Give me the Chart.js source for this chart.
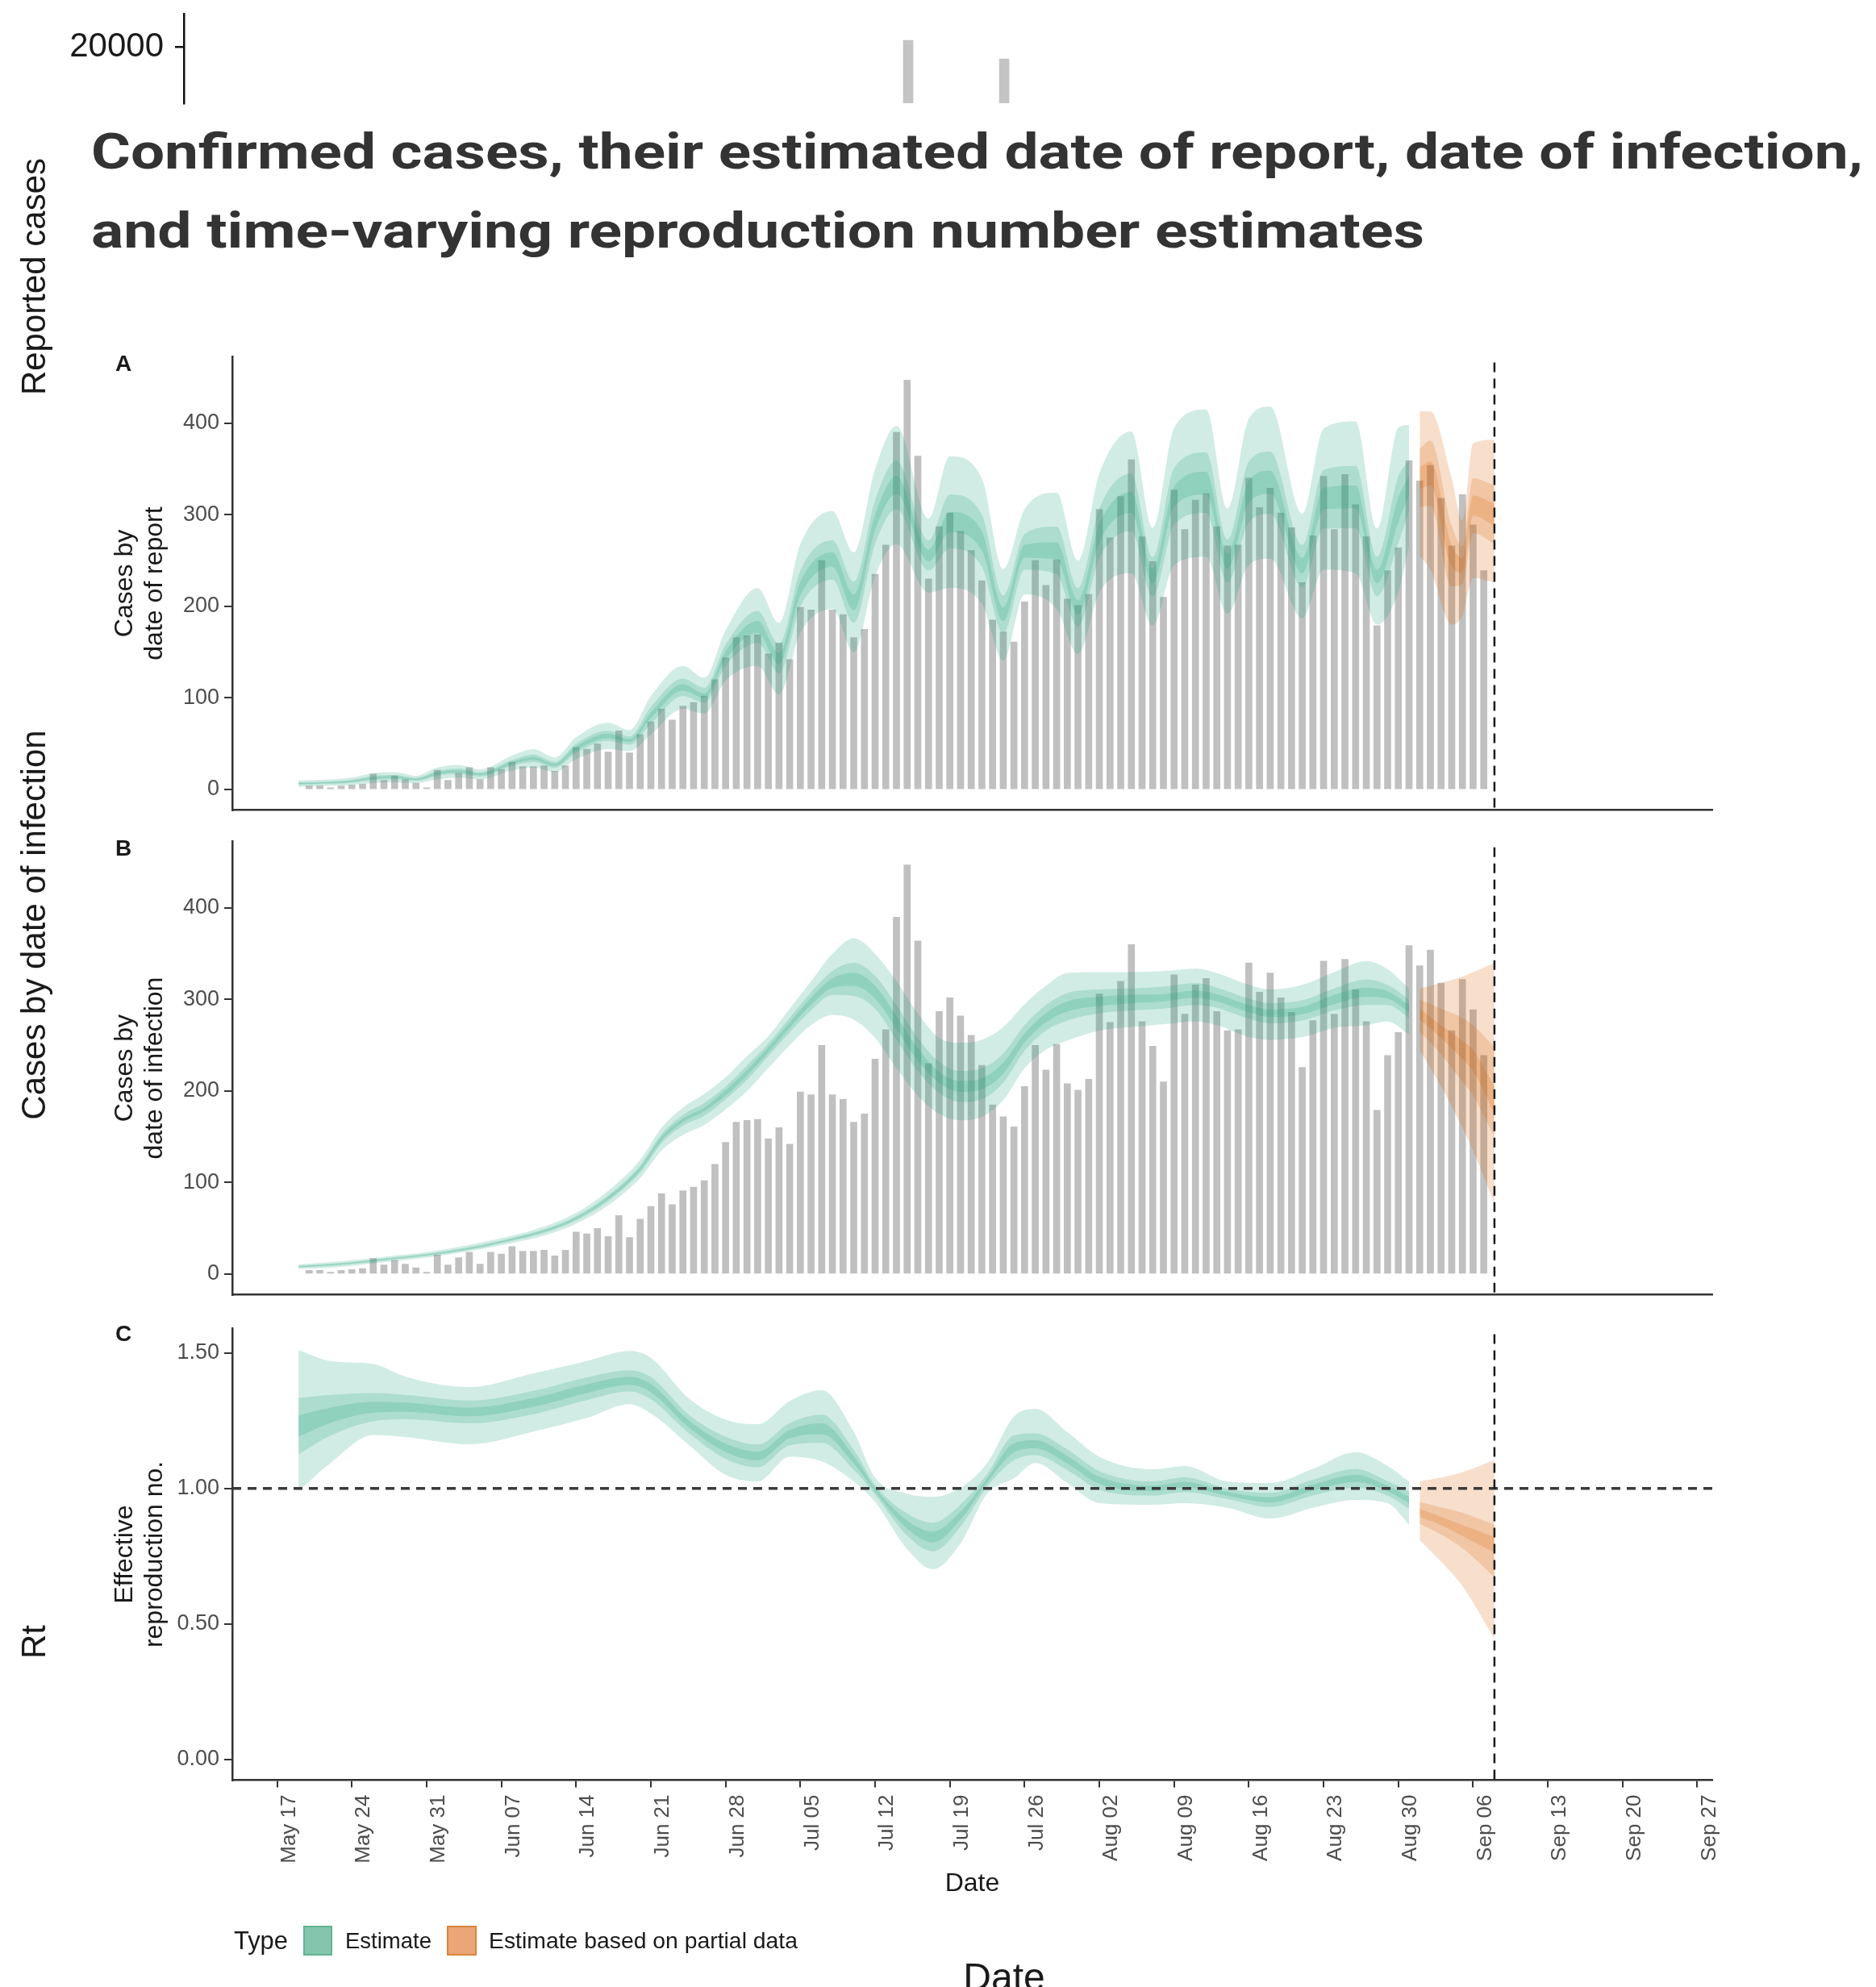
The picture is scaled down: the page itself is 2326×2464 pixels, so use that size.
<!DOCTYPE html>
<html><head><meta charset="utf-8">
<script src="https://cdn.jsdelivr.net/npm/chart.js@4.4.1/dist/chart.umd.min.js"></script>
<style>
html,body{margin:0;padding:0;background:#fff;}
#root{position:relative;width:2326px;height:2464px;overflow:hidden;background:#fff;}
#root canvas{position:absolute;left:0;}
#txt{position:absolute;left:0;top:0;}
</style></head>
<body><div id="root">
<canvas id="cTop" width="2326" height="140" style="top:0px"></canvas>
<canvas id="cA" width="2326" height="595" style="top:420px"></canvas>
<canvas id="cB" width="2326" height="596" style="top:1020px"></canvas>
<canvas id="cC" width="2326" height="730" style="top:1625px"></canvas>
<svg id="txt" width="2326" height="2464" xmlns="http://www.w3.org/2000/svg">
<g font-family="'Liberation Sans', Arial, sans-serif" fill="#1a1a1a">
<text x="113" y="209" font-family="Roboto, 'Liberation Sans', sans-serif" font-weight="700" font-size="62" fill="#333333" textLength="2197" lengthAdjust="spacingAndGlyphs">Confirmed cases, their estimated date of report, date of infection,</text>
<text x="113" y="307" font-family="Roboto, 'Liberation Sans', sans-serif" font-weight="700" font-size="62" fill="#333333" textLength="1653" lengthAdjust="spacingAndGlyphs">and time-varying reproduction number estimates</text>
<text transform="translate(56,343) rotate(-90)" text-anchor="middle" font-size="42">Reported cases</text>
<text transform="translate(56,1147) rotate(-90)" text-anchor="middle" font-size="42">Cases by date of infection</text>
<text transform="translate(56,2036) rotate(-90)" text-anchor="middle" font-size="42">Rt</text>
<text x="153" y="460" text-anchor="middle" font-weight="700" font-size="28">A</text>
<text x="153" y="1061" text-anchor="middle" font-weight="700" font-size="28">B</text>
<text x="153" y="1663" text-anchor="middle" font-weight="700" font-size="28">C</text>
<text x="290" y="2417" font-size="32" textLength="67" lengthAdjust="spacingAndGlyphs">Type</text>
<rect x="377" y="2389" width="34" height="35" fill="#84c6ad" stroke="#62b494" stroke-width="2"/>
<text x="428" y="2416" font-size="28" textLength="107" lengthAdjust="spacingAndGlyphs">Estimate</text>
<rect x="555" y="2389" width="35" height="35" fill="#eaa676" stroke="#d9853f" stroke-width="2"/>
<text x="606" y="2416" font-size="28" textLength="383" lengthAdjust="spacingAndGlyphs">Estimate based on partial data</text>
<text x="1245" y="2468" text-anchor="middle" font-size="48">Date</text>
</g>
</svg>
</div>
<script>
// ---------------- DATA ----------------
// day index: 0 = May 17
const TICK_DAYS = [0,7,14,21,28,35,42,49,56,63,70,77,84,91,98,105,112,119,126,133];
const TICK_LABELS = ["May 17","May 24","May 31","Jun 07","Jun 14","Jun 21","Jun 28","Jul 05","Jul 12","Jul 19","Jul 26","Aug 02","Aug 09","Aug 16","Aug 23","Aug 30","Sep 06","Sep 13","Sep 20","Sep 27"];
const CUTOFF_DAY = 114;

const BAR_FIRST_DAY = 3;
const BAR_VALUES = [4,4,2,4,5,6,17,10,15,11,7,2,21,10,18,24,11,24,22,30,25,25,26,20,26,46,44,50,41,64,40,60,74,88,76,91,95,102,120,144,166,168,169,148,160,142,199,196,250,196,191,166,175,235,267,390,447,364,230,287,302,282,261,228,185,172,161,205,250,223,251,208,201,213,306,275,320,360,276,249,210,327,284,316,323,287,266,267,340,308,329,302,286,226,277,342,284,344,311,276,179,239,264,359,337,354,318,266,322,289,239];

// Panel A (cases by date of report)
const A_Y_TICKS = [0,100,200,300,400];
const A_G_DAYS = [2,5,7,9,11,13,15,17,19,22,24,26,28,31,33,35,38,40,42,45,47,49,52,54,56,58,61,63,66,68,70,73,75,77,80,82,84,87,89,91,93,96,98,101,103,105,106];
const A_G_LO90 = [3,4,5,7,8,7,11,13,11,21,24,19,33,44,42,60,88,83,119,135,104,171,197,150,233,268,215,220,203,141,213,197,148,215,236,179,245,254,192,245,252,187,240,236,180,216,265];
const A_G_HI90 = [10,11,13,18,19,15,24,27,22,37,44,35,57,73,65,102,135,122,174,220,182,268,304,259,350,397,296,364,340,241,306,324,250,345,391,286,395,415,307,405,418,301,394,402,285,395,398];
const A_G_LO50 = [5.1,6.1,7.4,10.2,11.2,9.4,14.8,17.1,14.2,25.7,29.9,23.7,40,53,49,72,102,95,135,160,127,200,229,182,268,306,239,263,243,171,240,235,178,253,282,211,289,302,226,292,301,221,285,285,211,269,304];
const A_G_HI50 = [7.9,8.9,10.6,14.8,15.8,12.6,20.2,22.9,18.8,32.3,38.1,30.3,50,64,58,90,121,111,158,195,159,239,272,227,316,359,272,322,300,212,279,287,220,307,345,254,351,368,273,358,369,267,349,353,254,342,359];
const A_G_LO20 = [6.0,7.0,8.4,11.7,12.7,10.4,16.5,19,15.7,27.8,32.5,25.8,43,56,52,78,108,100,142,171,137,212,243,196,283,323,249,281,261,184,253,251,191,270,302,225,309,322,241,313,323,236,306,307,225,292,322];
const A_G_HI20 = [7.0,8.0,9.6,13.3,14.3,11.6,18.5,21,17.3,30.2,35.5,28.2,47,61,55,84,115,105,151,184,149,227,259,213,300,342,262,303,282,199,267,270,207,290,325,241,331,347,258,337,348,253,329,332,240,319,342];
const A_O_DAYS = [107,108,110,111,112,114];
const A_O_LO90 = [255,240,180,190,231,226];
const A_O_HI90 = [413,413,340,294,378,382];
const A_O_LO50 = [308,310,222,224,280,268];
const A_O_HI50 = [372,381,288,266,340,332];
const A_O_LO20 = [328,332,243,237,299,288];
const A_O_HI20 = [352,358,267,253,321,312];

// Panel B (cases by date of infection)
const B_Y_TICKS = [0,100,200,300,400];
const B_G_DAYS = [2,6,10,14,18,22,25,28,31,34,36,38,40,42,44,46,48,50,52,54,56,58,60,62,64,66,68,70,72,74,77,80,83,86,88,91,93,96,99,102,104,106];
const B_G_LO90 = [5.6,8,13,18,25,34,42,55,75,105,135,152,163,180,200,225,250,272,283,278,258,225,195,175,168,172,190,225,245,255,266,270,273,276,272,259,256,259,269,272,276,262];
const B_G_HI90 = [10.6,14,19,24,32,42,52,67,91,125,160,182,197,215,238,260,290,320,350,367,350,320,285,258,253,256,270,295,315,329,330,330,331,334,329,316,311,316,330,342,333,312];
const B_G_LO50 = [7,9.8,14.8,19.8,26.6,36.4,45,58.6,79.8,111,143,162,173,191,212,238,264,288,305,304,290,256,222,198,188,191,209,244,266,277,285,288,290,294,291,279,274,277,288,294,294,280];
const B_G_HI50 = [9,12.2,17.2,22.2,29.4,39.6,49,63.4,86.2,119,153,174,187,205,228,252,280,308,331,340,326,294,258,232,222,225,241,272,294,307,311,312,314,318,313,301,296,299,312,322,316,300];
const B_G_LO20 = [7.6,10.6,15.6,20.6,27.5,37.4,46.3,60.1,81.8,113.5,146,166,178,195,217,242,269,294,313,315,301,268,233,209,199,202,219,253,275,287,293,296,298,302,298,286,281,284,295,303,301,286];
const B_G_HI20 = [8.4,11.4,16.4,21.4,28.5,38.6,47.8,61.9,84.2,116.5,150,170,182,201,223,248,275,302,323,329,315,282,247,221,211,214,231,263,285,298,303,305,306,310,306,294,289,292,305,313,309,294];
const B_O_DAYS = [107,109,111,112,114];
const B_O_LO90 = [245,205,160,135,77];
const B_O_LO50 = [265,240,210,195,150];
const B_O_LO20 = [278,258,235,222,175];
const B_O_HI20 = [290,272,255,245,205];
const B_O_HI50 = [300,290,280,272,248];
const B_O_HI90 = [312,318,325,330,340];

// Panel C (effective reproduction number)
const C_Y_TICKS = [0,0.5,1,1.5];
const C_Y_LABELS = ["0.00","0.50","1.00","1.50"];
const C_G_DAYS = [2,5,9,12,18,24,29,33,35,38.5,42,45,48,51,54,56,59,61.4,64,66.5,69,71,74,77,82,85,89,93,97,101,104,106];
const C_G_LO90 = [.99,1.094,1.197,1.19,1.163,1.21,1.26,1.311,1.277,1.163,1.05,1.026,1.117,1.10,1.026,.95,.776,.702,.798,.981,1.037,1.094,1.02,.946,.94,.946,.929,.889,.929,.958,.946,.867];
const C_G_HI90 = [1.51,1.47,1.459,1.413,1.374,1.425,1.47,1.507,1.482,1.334,1.254,1.237,1.322,1.362,1.209,1.04,.981,.969,1.003,1.094,1.265,1.294,1.208,1.117,1.071,1.083,1.026,1.02,1.072,1.134,1.083,1.026];
const C_G_LO50 = [1.126,1.195,1.248,1.255,1.24,1.274,1.326,1.358,1.329,1.206,1.109,1.078,1.159,1.168,1.069,.977,.826,.768,.859,1.007,1.104,1.123,1.068,.996,.974,.987,.961,.932,.974,1.002,.973,.926];
const C_G_HI50 = [1.334,1.345,1.352,1.345,1.324,1.36,1.41,1.436,1.411,1.274,1.191,1.162,1.241,1.272,1.143,1.013,.908,.874,.941,1.053,1.196,1.203,1.144,1.064,1.026,1.041,.999,.984,1.032,1.072,1.027,.99];
const C_G_LO20 = [1.191,1.242,1.28,1.283,1.266,1.301,1.352,1.382,1.355,1.227,1.135,1.104,1.185,1.20,1.092,.988,.852,.801,.885,1.022,1.133,1.148,1.092,1.017,.99,1.004,.973,.948,.992,1.024,.99,.946];
const C_G_HI20 = [1.269,1.298,1.32,1.317,1.298,1.333,1.384,1.412,1.385,1.253,1.165,1.136,1.215,1.24,1.12,1.002,.882,.841,.915,1.038,1.167,1.178,1.12,1.043,1.01,1.024,.987,.968,1.014,1.05,1.01,.97];
const C_O_DAYS = [107,109,111,114];
const C_O_LO90 = [.81,.73,.64,.445];
const C_O_LO50 = [.87,.83,.78,.673];
const C_O_LO20 = [.895,.865,.825,.764];
const C_O_HI20 = [.925,.895,.865,.821];
const C_O_HI50 = [.95,.93,.91,.867];
const C_O_HI90 = [1.026,1.04,1.06,1.106];

// Top fragment (partly visible chart above)
const TOP_DAYS = [59,68];
const TOP_VALUES = [20457,19143];
const TOP_Y_TICKS = [20000];

// ---------------- STYLE ----------------
const GREEN = 'rgba(27,158,119,0.2)';
const ORANGE = 'rgba(217,95,2,0.2)';
const BAR_COLOR = '#c0c0c0';
const AXIS = '#333333';
const TICK_TXT = '#4d4d4d';
const X_MIN = -4.2, X_MAX = 134.4;
Chart.defaults.font.family = "'Liberation Sans', Arial, sans-serif";
Chart.defaults.animation = false;

function pts(days, vals){ return days.map((d,i)=>({x:d, y:vals[i]})); }
function band(days, lo, hi, color){
  const base = {type:'line', borderWidth:0, pointRadius:0, tension:0.4, cubicInterpolationMode:'monotone', backgroundColor:color, borderColor:'rgba(0,0,0,0)', order:0};
  return [Object.assign({}, base, {data:pts(days, lo), fill:false}), Object.assign({}, base, {data:pts(days, hi), fill:'-1'})];
}
function bands(days, l90,h90,l50,h50,l20,h20,color){
  return [...band(days,l90,h90,color), ...band(days,l50,h50,color), ...band(days,l20,h20,color)];
}
const barPts = BAR_VALUES.map((v,i)=>({x:BAR_FIRST_DAY+i, y:v}));

const refLines = {
  id:'refLines',
  afterDatasetsDraw(chart, args, o){
    const {ctx, chartArea:ca, scales:{x,y}} = chart;
    ctx.save();
    if (o.hy != null){
      const py = y.getPixelForValue(o.hy);
      ctx.strokeStyle = '#3a3a3a'; ctx.lineWidth = 3.5; ctx.setLineDash([11,8]);
      ctx.beginPath(); ctx.moveTo(ca.left, py); ctx.lineTo(ca.right, py); ctx.stroke();
    }
    if (o.vx != null){
      const px = x.getPixelForValue(o.vx);
      ctx.strokeStyle = '#1a1a1a'; ctx.lineWidth = 2.5; ctx.setLineDash([12,8]);
      ctx.beginPath(); ctx.moveTo(px, ca.top+7); ctx.lineTo(px, ca.bottom+3); ctx.stroke();
    }
    ctx.restore();
  }
};
const fixY = (w)=> (s)=>{ s.width = w; s.paddingTop = 0; s.paddingBottom = 0; };
const fixX = (h)=> (s)=>{ s.height = h; s.paddingLeft = 0; s.paddingRight = 0; };

function panel(id, p){
  const datasets = [];
  if (p.bars) datasets.push({type:'bar', data:p.bars, backgroundColor:BAR_COLOR, barThickness:8, order:10});
  p.bandSets.forEach(b=>datasets.push(...b));
  return new Chart(document.getElementById(id), {
    type:'bar',
    data:{datasets},
    options:{
      responsive:false, animation:false,
      layout:{padding:{top:p.padTop, right:203, left:0, bottom:0}},
      plugins:{legend:{display:false}, tooltip:{enabled:false}, refLines:{vx:CUTOFF_DAY, hy:p.hy}},
      scales:{
        x:{type:'linear', min:X_MIN, max:X_MAX, offset:false,
          afterFit:fixX(p.xH),
          afterBuildTicks: p.xTicks ? (s=>{s.ticks=p.xTicks.map(v=>({value:v}));}) : undefined,
          ticks:{display:!!p.xTicks, autoSkip:false, minRotation:90, maxRotation:90, labelOffset:15, padding:9,
            font:{size:26}, color:TICK_TXT, callback:(v,i)=>p.xLabels ? p.xLabels[i] : ''},
          grid:{drawOnChartArea:false, offset:false, drawTicks:!!p.xTicks, tickLength:9, color:AXIS, lineWidth:2},
          border:{display:true, color:AXIS, width:2.5},
          title:p.xTitle ? {display:true, text:p.xTitle, font:{size:32, lineHeight:1.2}, color:'#1a1a1a', padding:{top:0,bottom:0}} : {display:false}
        },
        y:{type:'linear', min:p.yMin, max:p.yMax,
          afterFit:fixY(288),
          afterBuildTicks:s=>{s.ticks=p.yTicks.map(v=>({value:v}));},
          ticks:{font:{size:27}, color:TICK_TXT, padding:6, callback:(v,i)=>p.yLabels ? p.yLabels[i] : String(v)},
          grid:{drawOnChartArea:false, tickLength:10, color:AXIS, lineWidth:2},
          border:{display:true, color:AXIS, width:2.5},
          title:{display:true, text:p.yTitle, font:{size:32, lineHeight:1.16}, color:'#1a1a1a', padding:{top:136.5, bottom:0}}
        }
      }
    },
    plugins:[refLines]
  });
}

panel('cA', {bars:barPts, padTop:22.4, xH:10.4, yMin:-22.5, yMax:472.5, yTicks:A_Y_TICKS,
  yTitle:['Cases by','date of report'],
  bandSets:[bands(A_G_DAYS,A_G_LO90,A_G_HI90,A_G_LO50,A_G_HI50,A_G_LO20,A_G_HI20,GREEN),
            bands(A_O_DAYS,A_O_LO90,A_O_HI90,A_O_LO50,A_O_HI50,A_O_LO20,A_O_HI20,ORANGE)]});
panel('cB', {bars:barPts, padTop:23.7, xH:10.5, yMin:-22.5, yMax:472.5, yTicks:B_Y_TICKS,
  yTitle:['Cases by','date of infection'],
  bandSets:[bands(B_G_DAYS,B_G_LO90,B_G_HI90,B_G_LO50,B_G_HI50,B_G_LO20,B_G_HI20,GREEN),
            bands(B_O_DAYS,B_O_LO90,B_O_HI90,B_O_LO50,B_O_HI50,B_O_LO20,B_O_HI20,ORANGE)]});
panel('cC', {padTop:22.4, xH:147.5, yMin:-0.0757, yMax:1.59, yTicks:C_Y_TICKS, yLabels:C_Y_LABELS, hy:1,
  xTicks:TICK_DAYS, xLabels:TICK_LABELS, xTitle:'Date',
  yTitle:['Effective','reproduction no.'],
  bandSets:[bands(C_G_DAYS,C_G_LO90,C_G_HI90,C_G_LO50,C_G_HI50,C_G_LO20,C_G_HI20,GREEN),
            bands(C_O_DAYS,C_O_LO90,C_O_HI90,C_O_LO50,C_O_HI50,C_O_LO20,C_O_HI20,ORANGE)]});

// top partial chart
new Chart(document.getElementById('cTop'), {
  type:'bar',
  data:{datasets:[{data:pts(TOP_DAYS, TOP_VALUES), backgroundColor:'#c4c4c4', barThickness:12}]},
  options:{
    responsive:false, animation:false,
    layout:{padding:{top:17, right:203, left:0, bottom:12}},
    plugins:{legend:{display:false}, tooltip:{enabled:false}},
    scales:{
      x:{type:'linear', min:-8.86, max:134.34, display:false, offset:false},
      y:{type:'linear', min:16000, max:22343,
        afterFit:fixY(228),
        afterBuildTicks:s=>{s.ticks=TOP_Y_TICKS.map(v=>({value:v}));},
        ticks:{font:{size:42}, color:'#1a1a1a', padding:14, callback:v=>String(v)},
        grid:{drawOnChartArea:false, tickLength:11, color:'#111', lineWidth:2.5},
        border:{display:true, color:'#111', width:2.5}
      }
    }
  }
});
</script>
</body></html>
